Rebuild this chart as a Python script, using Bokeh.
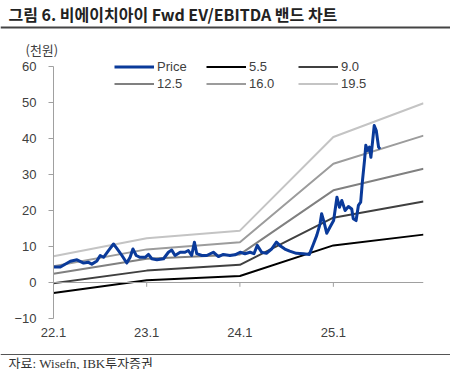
import pandas as pd
from bokeh.plotting import figure
from bokeh.layouts import column
from bokeh.models import (Span, Label, Legend, LegendItem, FixedTicker, Range1d)
from bokeh.embed import file_html
from bokeh.resources import INLINE

# ---------------- data ----------------
price_dates = [
    "2022-01-02", "2022-01-28", "2022-03-08", "2022-04-03", "2022-04-29", "2022-05-18",
    "2022-05-31", "2022-06-20", "2022-07-03", "2022-07-16", "2022-08-05", "2022-08-24",
    "2022-09-06", "2022-09-26", "2022-10-15", "2022-10-28", "2022-11-08", "2022-11-21",
    "2022-12-06", "2022-12-26", "2023-01-08", "2023-01-21", "2023-02-10", "2023-03-08",
    "2023-03-27", "2023-04-09", "2023-04-22", "2023-05-12", "2023-05-31", "2023-06-13",
    "2023-06-26", "2023-07-07", "2023-07-16", "2023-08-05", "2023-08-24", "2023-09-19",
    "2023-10-09", "2023-10-28", "2023-11-23", "2023-12-13", "2024-01-02", "2024-01-21",
    "2024-02-10", "2024-02-25", "2024-03-09", "2024-03-26", "2024-04-14", "2024-05-04",
    "2024-05-23", "2024-06-05", "2024-06-25", "2024-07-14", "2024-08-09", "2024-09-06",
    "2024-09-29", "2024-10-15", "2024-10-28", "2024-11-10", "2024-11-16", "2024-11-25",
    "2024-12-06", "2024-12-19", "2025-01-02", "2025-01-15", "2025-01-25", "2025-02-03",
    "2025-02-16", "2025-03-01", "2025-03-14", "2025-03-20", "2025-03-31", "2025-04-09",
    "2025-04-18", "2025-04-25", "2025-05-03", "2025-05-08", "2025-05-15", "2025-05-22",
    "2025-05-28", "2025-06-02", "2025-06-10", "2025-06-18", "2025-06-27", "2025-07-03",
]
price_values = [
    4.3, 4.3, 5.9, 6.3, 5.4, 5.6,
    5.1, 6.0, 7.5, 7.0, 8.9, 10.7,
    9.5, 7.5, 5.4, 7.0, 9.3, 7.5,
    7.0, 7.0, 7.8, 6.6, 6.3, 6.6,
    8.4, 9.0, 7.5, 8.4, 8.4, 8.9,
    7.5, 11.2, 8.0, 7.5, 7.5, 8.4,
    7.2, 7.8, 7.5, 7.7, 8.4, 8.0,
    8.4, 8.0, 10.3, 8.4, 8.1, 9.3,
    11.2, 10.3, 9.3, 8.7, 8.1, 8.0,
    7.8, 10.7, 13.1, 16.3, 19.1, 16.9,
    13.7, 15.4, 17.2, 23.7, 20.9, 22.8,
    20.0, 21.1, 20.4, 17.7, 17.2, 21.4,
    22.3, 28.3, 33.9, 38.1, 36.7, 37.6,
    34.8, 38.1, 43.6, 42.2, 37.6, 37.1,
]

band_dates = ["2022-01-01", "2023-01-01", "2024-01-01", "2025-01-01", "2025-12-20"]
band_5_5 = [-2.9, 0.6, 1.8, 10.3, 13.3]
band_9_0 = [-0.2, 3.3, 4.9, 18.0, 22.5]
band_12_5 = [2.4, 6.6, 7.8, 25.6, 31.6]
band_16_0 = [4.5, 9.2, 11.2, 33.0, 40.8]
band_19_5 = [7.3, 12.3, 14.4, 40.4, 49.8]

band_labels = ["5.5", "9.0", "12.5", "16.0", "19.5"]
band_series = [band_5_5, band_9_0, band_12_5, band_16_0, band_19_5]

x_tick_dates = ["2022-01-01", "2023-01-01", "2024-01-01", "2025-01-01"]
x_tick_labels = ["22.1", "23.1", "24.1", "25.1"]
y_ticks = [-10, 0, 10, 20, 30, 40, 50, 60]

title_text = "그림 6. 비에이치아이 Fwd EV/EBITDA 밴드 차트"
unit_text = "(천원)"
source_text = "자료: Wisefn, IBK투자증권"

# ---------------- styles ----------------
band_colors = ["#000000", "#404040", "#808080", "#9c9c9c", "#c4c4c4"]
price_color = "#0a3a9a"
axis_gray = "#a0a0a0"
text_gray = "#404040"

W = 450
HEAD_H, MAIN_H, FOOT_H = 58, 287, 24


def blank_fig(h):
    f = figure(width=W, height=h, output_backend="svg", toolbar_location=None,
               x_axis_location=None, y_axis_location=None, frame_align=False,
               min_border_left=0, min_border_right=0, min_border_top=0, min_border_bottom=0)
    f.x_range = Range1d(0, W)
    f.y_range = Range1d(h, 0)
    f.outline_line_color = None
    f.xgrid.visible = False
    f.ygrid.visible = False
    return f


# ---------------- header ----------------
head = blank_fig(HEAD_H)
head.add_layout(Label(x=8, y=13, text=title_text, text_font="Noto Sans CJK KR",
                      text_font_size="16px", text_font_style="bold",
                      text_color="#222222", text_baseline="middle"))
head.add_layout(Span(location=27, dimension="width", line_color="#444444", line_width=2))
head.add_layout(Label(x=25, y=48.5, text=unit_text, text_font="Noto Sans CJK KR",
                      text_font_size="13px", text_color=text_gray, text_baseline="middle"))

# ---------------- main chart ----------------
p = figure(width=W, height=MAIN_H, x_axis_type="datetime", output_backend="svg",
           toolbar_location=None, frame_align=False, min_border_left=53, min_border_right=27,
           min_border_top=0, min_border_bottom=27)
p.x_range = Range1d(pd.Timestamp("2022-01-01"), pd.Timestamp("2025-12-20"))
p.y_range = Range1d(-10, 60 + 8 / 3.6)
p.outline_line_color = None
p.xgrid.visible = False
p.ygrid.visible = False

bd = pd.to_datetime(band_dates)
band_renderers = []
for vals, col in zip(band_series, band_colors):
    band_renderers.append(p.line(bd, vals, line_color=col, line_width=2))

price_r = p.line(pd.to_datetime(price_dates), price_values, line_color=price_color,
                 line_width=3, line_join="round")

# zero line with small ticks
p.add_layout(Span(location=0, dimension="width", line_color=axis_gray, line_width=1))
tick_ts = pd.to_datetime(x_tick_dates)
p.segment(x0=tick_ts[1:], y0=[0] * 3, x1=tick_ts[1:], y1=[-1.2] * 3,
          line_color=axis_gray, line_width=1)

xa = p.xaxis[0]
xa.ticker = FixedTicker(ticks=[t.value / 1e6 for t in tick_ts])
xa.major_label_overrides = {t.value / 1e6: lab for t, lab in zip(tick_ts, x_tick_labels)}
xa.axis_line_color = None
xa.major_tick_line_color = None
xa.minor_tick_line_color = None
xa.major_label_standoff = 3
xa.major_label_text_font = "Liberation Sans"
xa.major_label_text_font_size = "13px"
xa.major_label_text_color = text_gray

ya = p.yaxis[0]
ya.ticker = FixedTicker(ticks=y_ticks)
ya.bounds = (-10, 60)
ya.axis_line_color = axis_gray
ya.major_tick_line_color = axis_gray
ya.major_tick_out = 5
ya.major_tick_in = 0
ya.minor_tick_line_color = None
ya.major_label_standoff = 12
ya.major_label_text_font = "Liberation Sans"
ya.major_label_text_font_size = "13px"
ya.major_label_text_color = text_gray

items = [LegendItem(label="Price", renderers=[price_r])]
for lab, r in zip(band_labels, band_renderers):
    items.append(LegendItem(label=lab, renderers=[r]))
legend = Legend(items=items, location=(61, 226), orientation="horizontal", ncols=3,
                glyph_width=40, glyph_height=17, label_height=17, label_width=49,
                label_standoff=3, spacing=0, padding=0, margin=0,
                background_fill_alpha=0, border_line_color=None,
                label_text_font="Liberation Sans", label_text_font_size="13px",
                label_text_color=text_gray)
p.add_layout(legend, "center")

# ---------------- footer ----------------
foot = blank_fig(FOOT_H)
foot.add_layout(Span(location=9, dimension="width", line_color="#555555", line_width=1))
foot.add_layout(Label(x=8, y=17.5, text=source_text,
                      text_font="Liberation Serif, Noto Sans CJK KR",
                      text_font_size="13px", text_color="#333333", text_baseline="middle"))

layout = column(head, p, foot, spacing=0)
open("out.html", "w").write(file_html(layout, INLINE))
